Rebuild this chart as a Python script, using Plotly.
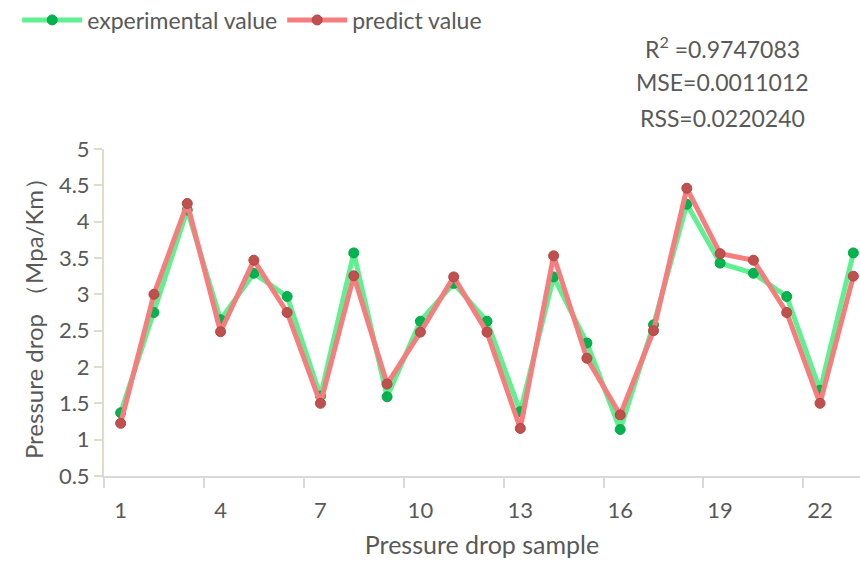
import plotly.graph_objects as go

samples = list(range(1, 24))
experimental = [1.37, 2.75, 4.16, 2.65, 3.29, 2.97, 1.60, 3.57, 1.59, 2.63, 3.15, 2.63,
                1.385, 3.24, 2.33, 1.14, 2.58, 4.24, 3.43, 3.29, 2.97, 1.68, 3.57]
predicted = [1.225, 3.00, 4.25, 2.485, 3.47, 2.75, 1.50, 3.255, 1.765, 2.48, 3.24, 2.48,
             1.155, 3.53, 2.12, 1.34, 2.50, 4.46, 3.56, 3.47, 2.75, 1.50, 3.25]
x_tick_vals = [1, 4, 7, 10, 13, 16, 19, 22]
y_tick_vals = [0.5, 1, 1.5, 2, 2.5, 3, 3.5, 4, 4.5, 5]
y_tick_text = ["0.5", "1", "1.5", "2", "2.5", "3", "3.5", "4", "4.5", "5"]
stats_lines = ["R<sup>2</sup> =0.9747083", "MSE=0.0011012", "RSS=0.0220240"]

FONT = "Lato"
GREY = "#595959"

fig = go.Figure()
fig.add_trace(go.Scatter(
    x=samples, y=experimental, mode="lines+markers", name="experimental value",
    line=dict(color="rgb(95,240,145)", width=5),
    marker=dict(color="rgb(0,180,80)", size=10, line=dict(color="rgb(20,160,70)", width=1)),
))
fig.add_trace(go.Scatter(
    x=samples, y=predicted, mode="lines+markers", name="predict value",
    line=dict(color="rgb(245,125,125)", width=5),
    marker=dict(color="rgb(192,80,77)", size=10, line=dict(color="rgb(180,70,70)", width=1)),
))

for i, t in enumerate(stats_lines):
    fig.add_annotation(
        text=t, xref="paper", yref="paper",
        x=(722 - 104) / 756, y=(476 - (47 + 35.5 * i)) / 327,
        xanchor="center", yanchor="middle", showarrow=False,
        font=dict(family=FONT, size=23, color=GREY),
    )

fig.update_layout(
    width=860, height=561,
    margin=dict(l=104, r=0, t=149, b=85),
    paper_bgcolor="white", plot_bgcolor="white",
    font=dict(family=FONT, color=GREY),
    showlegend=True,
    legend=dict(
        orientation="h", xref="container", yref="container",
        x=0.02, y=1 - 20 / 561, xanchor="left", yanchor="middle",
        font=dict(family=FONT, size=23, color=GREY),
        itemwidth=60, tracegroupgap=0, bgcolor="rgba(0,0,0,0)",
    ),
    xaxis=dict(
        range=[0.5, 23.2], showgrid=False, zeroline=False,
        showline=True, linecolor="#d9d9d9", linewidth=2,
        tickmode="array", tickvals=x_tick_vals, ticks="",
        ticklabelstandoff=14,
        tickfont=dict(family=FONT, size=22, color=GREY),
        minor=dict(tickmode="linear", tick0=0.5, dtick=3, ticks="outside",
                   ticklen=10, tickcolor="#d9d9d9", tickwidth=2),
        title=dict(text="Pressure drop sample", font=dict(family=FONT, size=25, color=GREY), standoff=14),
    ),
    yaxis=dict(
        range=[0.5, 5], showgrid=False, zeroline=False,
        showline=True, linecolor="#e0dccb", linewidth=2,
        tickmode="array", tickvals=y_tick_vals, ticktext=y_tick_text,
        ticks="outside", ticklen=8, tickcolor="#e0dccb", tickwidth=1.5,
        tickfont=dict(family=FONT, size=22, color=GREY),
        title=dict(text="Pressure drop （Mpa/Km）", font=dict(family=FONT, size=24, color=GREY), standoff=8),
    ),
)

fig.write_html("out.html")
